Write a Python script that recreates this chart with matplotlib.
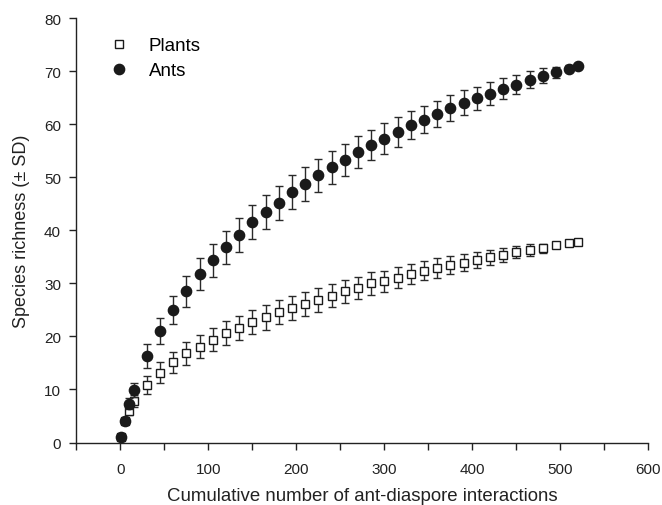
import matplotlib.pyplot as plt
from matplotlib.ticker import MultipleLocator

# Cumulative number of interactions sampled
interactions = [1, 5, 10, 15, 30, 45, 60, 75, 90, 105, 120, 135, 150, 165, 180, 195,
                210, 225, 240, 255, 270, 285, 300, 315, 330, 345, 360, 375, 390, 405,
                420, 435, 450, 465, 480, 495, 510, 520]

# Ant species richness and SD
ants = [1.0, 4.0, 7.3, 9.9, 16.3, 21.0, 25.0, 28.5, 31.7, 34.4, 36.8, 39.2, 41.5, 43.4,
        45.2, 47.2, 48.8, 50.4, 51.9, 53.3, 54.7, 56.1, 57.3, 58.6, 59.9, 60.9, 61.9,
        63.1, 64.1, 64.9, 65.8, 66.7, 67.5, 68.4, 69.2, 69.8, 70.5, 71.0]
ants_sd = [0.0, 0.5, 1.0, 1.4, 2.2, 2.4, 2.7, 2.9, 3.0, 3.1, 3.1, 3.2, 3.2, 3.2,
           3.2, 3.2, 3.2, 3.1, 3.1, 3.0, 3.0, 2.9, 2.9, 2.8, 2.7, 2.6, 2.5,
           2.4, 2.3, 2.2, 2.1, 2.0, 1.8, 1.6, 1.4, 1.0, 0.6, 0.0]

# Plant species richness and SD
plants = [1.0, 4.0, 6.0, 7.8, 10.9, 13.2, 15.1, 16.8, 18.1, 19.4, 20.6, 21.6, 22.7, 23.6,
          24.6, 25.4, 26.1, 26.9, 27.7, 28.5, 29.2, 30.0, 30.4, 31.1, 31.7, 32.4, 32.9,
          33.4, 33.9, 34.4, 34.9, 35.4, 35.9, 36.3, 36.6, 37.2, 37.6, 37.9]
plants_sd = [0.0, 0.5, 0.8, 1.1, 1.7, 1.9, 2.0, 2.1, 2.2, 2.2, 2.3, 2.3, 2.3, 2.3,
             2.3, 2.3, 2.3, 2.2, 2.2, 2.2, 2.1, 2.1, 2.0, 2.0, 1.9, 1.8, 1.8,
             1.7, 1.6, 1.5, 1.4, 1.3, 1.2, 1.1, 0.9, 0.6, 0.2, 0.0]

plt.rcParams['font.family'] = ['Liberation Sans', 'DejaVu Sans']

fig = plt.figure(figsize=(6.62, 5.06), dpi=100)
ax = fig.add_axes([0.1153, 0.1235, 0.8640, 0.8385])

err_kw = dict(fmt='none', ecolor='#2a2a2a', elinewidth=1.0, capsize=3.2, capthick=1.0)

# plants first, ants drawn on top
ax.errorbar(interactions, plants, yerr=plants_sd, zorder=2, **err_kw)
p_line, = ax.plot(interactions, plants, 's', ms=5.6, mfc='white', mec='#1a1a1a',
                  mew=1.0, zorder=3, label='Plants')
ax.errorbar(interactions, ants, yerr=ants_sd, zorder=4, **err_kw)
a_line, = ax.plot(interactions, ants, 'o', ms=7.4, mfc='#1a1a1a', mec='#1a1a1a',
                  zorder=5, label='Ants')

ax.set_xlim(-50, 600)
ax.set_ylim(0, 80)
ax.xaxis.set_major_locator(MultipleLocator(100))
ax.xaxis.set_minor_locator(MultipleLocator(50))
ax.yaxis.set_major_locator(MultipleLocator(10))

for side in ['top', 'right']:
    ax.spines[side].set_visible(False)
for side in ['left', 'bottom']:
    ax.spines[side].set_linewidth(1.0)
    ax.spines[side].set_color('#222222')

ax.tick_params(axis='both', which='both', direction='out', length=5, width=1.0,
               colors='#222222', labelsize=11, labelcolor='#222222')
ax.tick_params(axis='x', pad=9)
ax.tick_params(axis='y', pad=6)

ax.set_xlabel('Cumulative number of ant-diaspore interactions', fontsize=13.4,
              color='#222222', labelpad=8)
ax.set_ylabel('Species richness (\u00b1 SD)', fontsize=13, color='#222222', labelpad=10)

ax.legend(handles=[p_line, a_line], loc='upper left', bbox_to_anchor=(0.025, 0.995),
          frameon=False, fontsize=13.5, handlelength=1.2, handletextpad=1.0,
          labelspacing=0.42)

fig.savefig('out.png', dpi=100)
